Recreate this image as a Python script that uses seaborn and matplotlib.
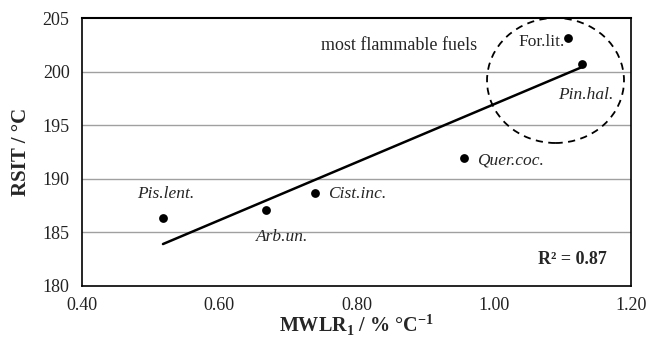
import matplotlib
matplotlib.use("Agg")
import matplotlib.pyplot as plt
import seaborn as sns
import pandas as pd
from matplotlib.patches import Ellipse

species = ["Pis.lent.", "Arb.un.", "Cist.inc.", "Quer.coc.", "For.lit.", "Pin.hal."]
mwlr = [0.518, 0.668, 0.740, 0.957, 1.108, 1.129]
rsit = [186.34, 187.09, 188.67, 191.94, 203.13, 200.71]
xticks = [0.40, 0.60, 0.80, 1.00, 1.20]
yticks = [180, 185, 190, 195, 200, 205]

df = pd.DataFrame({"species": species, "mwlr": mwlr, "rsit": rsit})

sns.set_style("white")
plt.rcParams["font.family"] = ["Liberation Serif", "DejaVu Serif"]
plt.rcParams["mathtext.fontset"] = "custom"
plt.rcParams["mathtext.rm"] = "Liberation Serif"
plt.rcParams["mathtext.bf"] = "Liberation Serif:bold"

fig = plt.figure(figsize=(6.52, 3.4), dpi=100)
ax = fig.add_axes([82/652, 1-286/340, (631-82)/652, (286-18)/340])

for yv in yticks[1:-1]:
    ax.axhline(yv, color="#a0a0a0", lw=1.0, zorder=0)

sns.regplot(data=df, x="mwlr", y="rsit", ax=ax, ci=None, truncate=True,
            color="black",
            scatter_kws={"s": 40, "zorder": 3, "edgecolors": "black", "linewidths": 0, "alpha": 1},
            line_kws={"lw": 1.8})

ax.set_xlim(0.40, 1.20)
ax.set_ylim(180, 205)
ax.set_xticks(xticks)
ax.set_xticklabels([f"{v:.2f}" for v in xticks])
ax.set_yticks(yticks)
ax.tick_params(axis="both", direction="out", length=5, width=1.2, labelsize=13,
               color="black", labelcolor="#222222")
ax.tick_params(axis="x", pad=3)
ax.tick_params(axis="y", pad=4)
for s in ax.spines.values():
    s.set_color("black")
    s.set_linewidth(1.2)
ax.spines["top"].set_linewidth(1.5)

ax.set_xlabel(r"MWLR$_\mathbf{1}$ / % °C$^{\mathbf{-1}}$", fontsize=14.5, fontweight="bold", labelpad=-1)
ax.set_ylabel("RSIT / °C", fontsize=15, fontweight="bold", labelpad=8)

offsets = {
    "Pis.lent.": ((3, 24), "center", "italic"),
    "Arb.un.": ((16, -27), "center", "italic"),
    "Cist.inc.": ((13, -1), "left", "italic"),
    "Quer.coc.": ((13, -2), "left", "italic"),
    "For.lit.": ((-3, -4), "right", "normal"),
    "Pin.hal.": ((4, -31), "center", "italic"),
}
for sp, xv, yv in zip(species, mwlr, rsit):
    (dx, dy), ha, st = offsets[sp]
    ax.annotate(sp, (xv, yv), xytext=(dx, dy), textcoords="offset pixels",
                ha=ha, va="center", fontsize=12.5, style=st)

ax.add_patch(Ellipse((1.090, 199.17), 0.1996, 11.66, fill=False, ls=(0, (4, 3)),
                     lw=1.3, color="black", clip_on=False))

fig.text(477/652, 1-46/340, "most flammable fuels", ha="right", va="center", fontsize=13)
fig.text(607/652, 1-260/340, "R² = 0.87", ha="right", va="center", fontsize=13, fontweight="bold")

fig.savefig("out.png", dpi=100)
